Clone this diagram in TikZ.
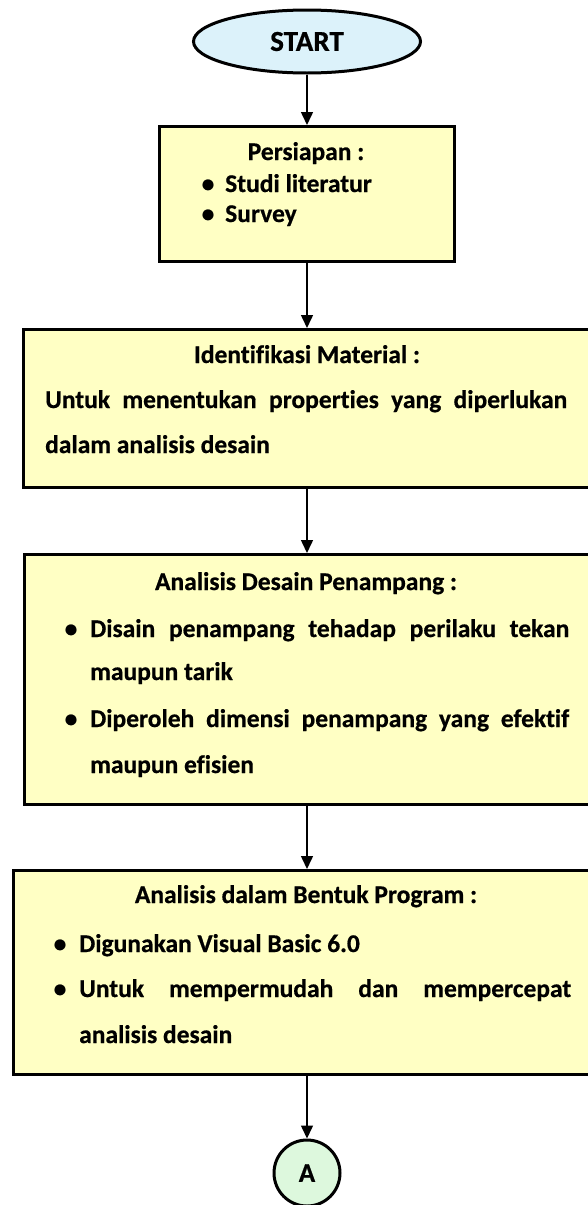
\documentclass[tikz,border=0pt]{standalone}
\usepackage{fontspec}
\setmainfont{Carlito}[Ligatures=NoCommon, BoldFeatures={FakeBold=0.6}]
\usepackage{xcolor}
\usetikzlibrary{arrows.meta, shapes.geometric}
\definecolor{boxyellow}{HTML}{FFFFC4}
\definecolor{startblue}{HTML}{DCF2FA}
\definecolor{connGreen}{HTML}{DDF8DD}
\newcommand{\jline}[2]{\makebox[#1][s]{#2}}

\begin{document}
\begin{tikzpicture}[x=1pt,y=-1pt,
  box/.style={draw,line width=3pt,fill=boxyellow,inner sep=0pt,anchor=north west},
  txt/.style={inner sep=0pt,anchor=base west,font=\fontsize{25.5}{30}\selectfont\bfseries},
  flow/.style={line width=1.5pt,-{Triangle[length=13pt,width=12pt]}}]
\useasboundingbox (0,0) rectangle (587,1205);
%\draw[step=50,gray,very thin] (0,0) grid (587,1205);
\node[draw,ellipse,line width=3pt,fill=startblue,minimum width=227pt,minimum height=63pt,
  font=\fontsize{29}{30}\selectfont\bfseries] (start) at (307,41.5) {START};
\node[box,minimum width=295pt,minimum height=135pt] (prep) at (158,125) {};
\node[box,minimum width=578pt,minimum height=158pt] (ident) at (22,328) {};
\node[box,minimum width=577pt,minimum height=250pt] (desain) at (23,553) {};
\node[box,minimum width=588pt,minimum height=204pt] (program) at (12,869) {};
\node[draw,circle,line width=3pt,fill=connGreen,minimum size=66pt,inner sep=0pt,
  font=\fontsize{27}{30}\selectfont\bfseries] (conA) at (307,1173) {A};
% persiapan
\node[txt,anchor=base] (prepH) at (306,160) {Persiapan :};
\node[txt,anchor=base] (prepB1) at (208,192) {\textbullet};
\node[txt] (prepT1) at (225,192) {Studi literatur};
\node[txt,anchor=base] (prepB2) at (208,222) {\textbullet};
\node[txt] (prepT2) at (225,222) {Survey};
% identifikasi material
\node[txt,anchor=base] (identH) at (307,363) {Identifikasi Material :};
\node[txt] (identT1) at (45,408) {\jline{522pt}{Untuk menentukan properties yang diperlukan}};
\node[txt] (identT2) at (45,453) {dalam analisis desain};
% analisis desain penampang
\node[txt,anchor=base] (desainH) at (306,590) {Analisis Desain Penampang :};
\node[txt,anchor=base] (desainB1) at (71,637) {\textbullet};
\node[txt] (desainT1) at (90,637) {\jline{479pt}{Disain penampang tehadap perilaku tekan}};
\node[txt] (desainT2) at (90,680) {maupun tarik};
\node[txt,anchor=base] (desainB2) at (71,727) {\textbullet};
\node[txt] (desainT3) at (90,727) {\jline{479pt}{Diperoleh dimensi penampang yang efektif}};
\node[txt] (desainT4) at (90,773) {maupun efisien};
% analisis program
\node[txt,anchor=base] (programH) at (306,903) {Analisis dalam Bentuk Program :};
\node[txt,anchor=base] (programB1) at (60,952) {\textbullet};
\node[txt] (programT1) at (79,952) {Digunakan Visual Basic 6.0};
\node[txt,anchor=base] (programB2) at (60,997) {\textbullet};
\node[txt] (programT2) at (79,997) {\jline{492pt}{Untuk mempermudah dan mempercepat}};
\node[txt] (programT3) at (79,1043) {analisis desain};
% arrows
\draw[flow] (start.south) -- (start.south |- prep.north);
\draw[flow] (start.south |- prep.south) -- (start.south |- ident.north);
\draw[flow] (start.south |- ident.south) -- (start.south |- desain.north);
\draw[flow] (start.south |- desain.south) -- (start.south |- program.north);
\draw[flow] (start.south |- program.south) -- (conA.north);
\end{tikzpicture}
\end{document}
